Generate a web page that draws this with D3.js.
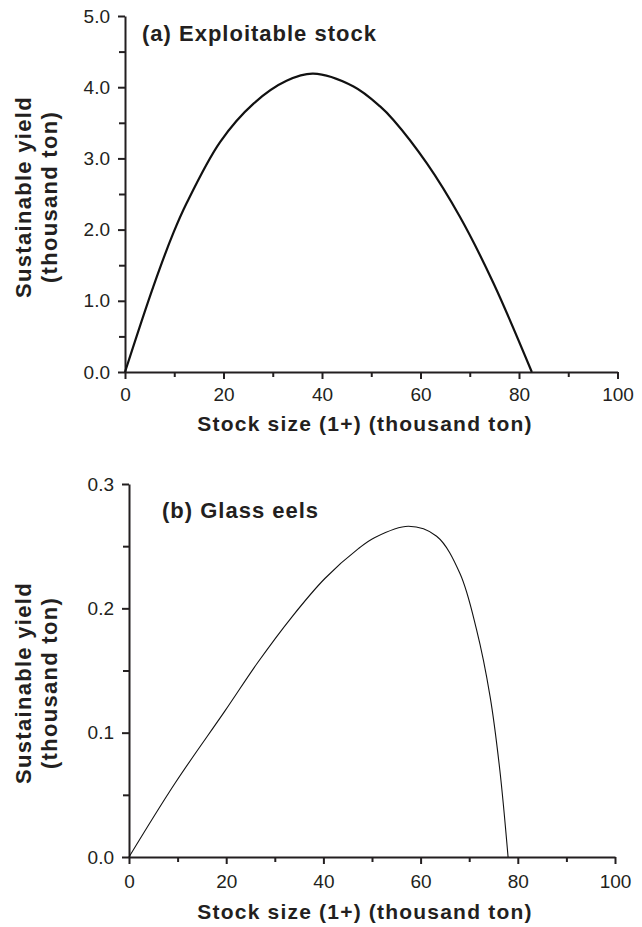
<!DOCTYPE html>
<html lang="en">
<head>
<meta charset="UTF-8">
<script src="https://d3js.org/d3.v7.min.js"></script>
<style>
    body { margin: 0; background: #fff; }
    svg { display: block; }
    .axis path, .axis line { stroke: #231f20; stroke-width: 2px; fill: none; }
    .axis text { font-family: "Liberation Sans", Arial, sans-serif; font-size: 19px; fill: #231f20; }
    .title { font-family: "Liberation Sans", Arial, sans-serif; font-weight: bold; fill: #231f20; }
</style>
</head>
<body>
<svg width="642" height="927"></svg>
<script>
// panel (a) exploitable stock: stock size vs sustainable yield (thousand ton)
var stockA = [0, 5.75, 9.8, 12.5, 19.3, 26.1, 32.8, 38.2, 46.4, 51.8, 54.5, 61.3, 68.0, 74.8, 82.6];
var yieldA = [0, 1.20, 1.95, 2.37, 3.23, 3.77, 4.09, 4.19, 4.01, 3.73, 3.54, 2.93, 2.18, 1.25, 0];

// panel (b) glass eels
var stockB = [0, 9.5, 19.75, 26.6, 33.5, 40.3, 47.2, 50.6, 57.5, 63.3, 68.1, 71.5, 74.3, 76.3, 78.0];
var yieldB = [0, 0.0595, 0.1175, 0.157, 0.193, 0.224, 0.248, 0.257, 0.266, 0.258, 0.228, 0.183, 0.129, 0.070, 0];

var xTicks = [0, 20, 40, 60, 80, 100];
var xMinor = [10, 30, 50, 70, 90];
var yTicksA = [0, 1, 2, 3, 4, 5];
var yMinorA = [0.5, 1.5, 2.5, 3.5, 4.5];
var yTicksB = [0, 0.1, 0.2, 0.3];
var yMinorB = [0.05, 0.15, 0.25];

var svg = d3.select("svg");

function panel(o) {
    var x = d3.scaleLinear().domain([0, 100]).range([o.left, o.right]);
    var y = d3.scaleLinear().domain([0, o.ymax]).range([o.bottom, o.top]);
    var g = svg.append("g");

    // minor ticks first, then major axis on top
    g.append("g").attr("class", "axis")
        .attr("transform", "translate(0," + o.bottom + ")")
        .call(d3.axisBottom(x).tickValues(xMinor).tickSize(5).tickFormat(""))
        .select(".domain").remove();
    g.append("g").attr("class", "axis")
        .attr("transform", "translate(" + o.left + ",0)")
        .call(d3.axisLeft(y).tickValues(o.yMinor).tickSize(6).tickFormat(""))
        .select(".domain").remove();

    g.append("g").attr("class", "axis")
        .attr("transform", "translate(0," + o.bottom + ")")
        .call(d3.axisBottom(x).tickValues(xTicks).tickSize(7).tickSizeOuter(0).tickPadding(o.xPad));
    g.append("g").attr("class", "axis")
        .attr("transform", "translate(" + o.left + ",0)")
        .call(d3.axisLeft(y).tickValues(o.yTicks).tickSize(7).tickSizeOuter(0).tickPadding(8)
            .tickFormat(d3.format(".1f")));

    var line = d3.line()
        .x(function(d) { return x(d[0]); })
        .y(function(d) { return y(d[1]); })
        .curve(d3.curveCatmullRom.alpha(0.5));
    g.append("path")
        .datum(d3.zip(o.xs, o.ys))
        .attr("d", line)
        .attr("fill", "none")
        .attr("stroke", "#111")
        .attr("stroke-width", o.lw);

    // panel title
    g.append("text").attr("class", "title")
        .attr("x", o.titleX).attr("y", o.titleY)
        .style("font-size", "22px").style("letter-spacing", "1px")
        .text(o.title);

    // x axis title
    g.append("text").attr("class", "title")
        .attr("x", 365).attr("y", o.xTitleY)
        .attr("text-anchor", "middle")
        .style("font-size", "21px").style("letter-spacing", "1.2px")
        .text("Stock size (1+) (thousand ton)");

    // y axis title, two lines
    var yt = g.append("text").attr("class", "title")
        .attr("transform", "translate(0," + o.yTitleC + ") rotate(-90)")
        .attr("text-anchor", "middle")
        .style("font-size", "22px").style("letter-spacing", "1.3px");
    yt.append("tspan").attr("x", 0).attr("y", 31).text("Sustainable yield");
    yt.append("tspan").attr("x", 0).attr("y", 57).text("(thousand ton)");
}

panel({left: 125, right: 617.5, top: 16, bottom: 372, ymax: 5,
       yTicks: yTicksA, yMinor: yMinorA, xs: stockA, ys: yieldA, lw: 2.2, xPad: 9,
       title: "(a) Exploitable stock", titleX: 142, titleY: 41,
       xTitleY: 431, yTitleC: 197});

panel({left: 129, right: 615, top: 484, bottom: 857, ymax: 0.3,
       yTicks: yTicksB, yMinor: yMinorB, xs: stockB, ys: yieldB, lw: 1.1, xPad: 11,
       title: "(b) Glass eels", titleX: 162, titleY: 518,
       xTitleY: 919, yTitleC: 683});
</script>
</body>
</html>
